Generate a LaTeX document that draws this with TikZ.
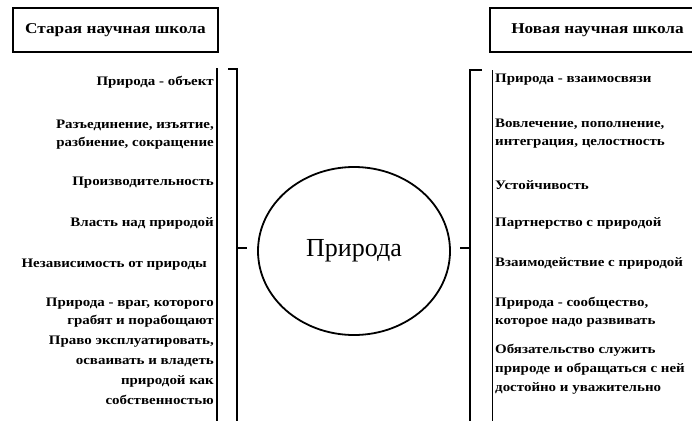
\documentclass[tikz,border=0pt]{standalone}
\usepackage{fontspec}
\setmainfont{Liberation Serif}
\newfontfamily\widefont[FakeStretch = 1.15]{Liberation Serif}
\usetikzlibrary{shapes.geometric}
\tikzset{
  schoolbox/.style = {draw, rectangle, line width = 1.6pt, minimum height = 44pt, font = \widefont\bfseries\fontsize{15}{18}\selectfont},
  olditem/.style = {anchor = east, align = right, inner sep = 1pt, font = \widefont\bfseries\fontsize{13}{18}\selectfont},
  newitem/.style = {anchor = west, align = left, inner sep = 1pt, font = \widefont\bfseries\fontsize{13}{18}\selectfont},
  bracket/.style = {line width = 1.3pt},
}

\begin{document}
\begin{tikzpicture}[x = 1pt, y = -1pt]
        \useasboundingbox (0, 0) rectangle (692, 420);

        % Headings
        \node [schoolbox, minimum width = 205pt] (oldbox) at (115.5, 30) {Старая научная школа};
        \node [schoolbox, minimum width = 215pt] (newbox) at (597.5, 30) {Новая научная школа};

        % Centre
        \node [draw, ellipse, line width = 1.8pt, minimum width = 192pt, minimum height = 168pt, font = \fontsize{26}{30}\selectfont] (nature) at (354, 251) {Природа};

        % Old school items
        \node [olditem] (old1) at (215, 82) {Природа - объект};
        \node [olditem] (old2) at (215, 135) {Разъединение, изъятие,\\разбиение, сокращение};
        \node [olditem] (old3) at (215, 183) {Производительность};
        \node [olditem] (old4) at (215, 223) {Власть над природой};
        \node [olditem] (old5) at (208, 265) {Независимость от природы};
        \node [olditem] (old6) at (215, 312.5) {Природа - враг, которого\\грабят и порабощают};
        \node [olditem, font = \widefont\bfseries\fontsize{13}{20}\selectfont] (old7) at (215, 370) {Право эксплуатировать,\\осваивать и владеть\\природой как\\собственностью};

        % New school items
        \node [newitem] (new1) at (494, 80) {Природа - взаимосвязи};
        \node [newitem] (new2) at (494, 134) {Вовлечение, пополнение,\\интеграция, целостность};
        \node [newitem] (new3) at (494, 185) {Устойчивость};
        \node [newitem] (new4) at (494, 223) {Партнерство с природой};
        \node [newitem] (new5) at (494, 263) {Взаимодействие с природой};
        \node [newitem] (new6) at (494, 312.5) {Природа - сообщество,\\которое надо развивать};
        \node [newitem, font = \widefont\bfseries\fontsize{13}{19}\selectfont] (new7) at (494, 369) {Обязательство служить\\природе и обращаться с ней\\достойно и уважительно};

        % Column rules
        \draw [line width = 1.5pt] (217, 68) -- (217, 425);
        \draw [line width = 0.6pt] (492, 70) -- (492, 425);

        % Brackets
        \draw [bracket] (228, 69) -| (237, 425);
        \draw [bracket] (237, 248) -- (247, 248);
        \draw [bracket] (482, 70) -| (470, 425);
        \draw [bracket] (470, 248) -- (460, 248);

    \end{tikzpicture}
\end{document}
